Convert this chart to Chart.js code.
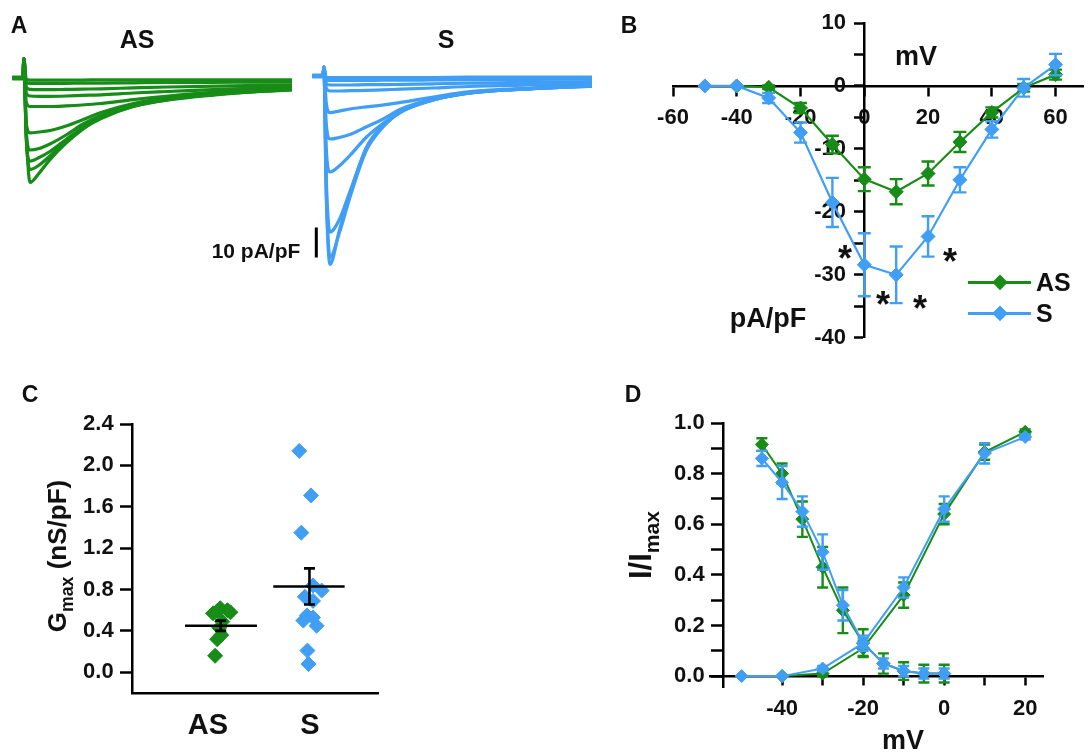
<!DOCTYPE html>
<html>
<head>
<meta charset="utf-8">
<script src="https://cdn.jsdelivr.net/npm/chart.js@4.4.1/dist/chart.umd.min.js"></script>
<style>
  body { margin: 0; background: #fff; }
  #fig { position: relative; width: 1091px; height: 755px; overflow: hidden;
         font-family: 'Liberation Sans', Arial, sans-serif; color: #111; }
  #fig canvas { position: absolute; }
  .t { position: absolute; transform: translate(-50%, -50%); font-weight: bold; line-height: 1; white-space: nowrap; }
  .l { position: absolute; transform: translate(0, -50%); font-weight: bold; line-height: 1; white-space: nowrap; }
  .v { position: absolute; transform: translate(-50%, -50%) rotate(-90deg); font-weight: bold; line-height: 1; white-space: nowrap; }
  .dia { position: absolute; width: 10.5px; height: 10.5px; transform: translate(-50%, -50%) rotate(45deg); }
  .sub { font-size: 0.68em; position: relative; top: 0.38em; }
</style>
</head>
<body>
<div id="fig">
  <canvas id="traceAS" width="300" height="280" style="left:0;top:0"></canvas>
  <canvas id="traceS" width="300" height="280" style="left:300px;top:0"></canvas>
  <canvas id="iv" width="491" height="360" style="left:600px;top:0"></canvas>
  <canvas id="gmax" width="390" height="385" style="left:0;top:370px"></canvas>
  <canvas id="kin" width="521" height="385" style="left:570px;top:370px"></canvas>

  <div class="t" style="left:19px;top:25px;font-size:23px">A</div>
  <div class="t" style="left:137px;top:39px;font-size:25px">AS</div>
  <div class="t" style="left:446px;top:39px;font-size:25px">S</div>
  <div class="t" style="left:256px;top:250px;font-size:21px">10 pA/pF</div>

  <div class="t" style="left:629px;top:25px;font-size:23px">B</div>
  <div class="t" style="left:916px;top:56px;font-size:27px">mV</div>
  <div class="t" style="left:768px;top:318px;font-size:27px">pA/pF</div>
  <div class="t" style="left:845px;top:259px;font-size:36px">*</div>
  <div class="t" style="left:883px;top:305px;font-size:36px">*</div>
  <div class="t" style="left:920px;top:309px;font-size:36px">*</div>
  <div class="t" style="left:950px;top:262px;font-size:36px">*</div>
  <div style="position:absolute;left:968px;top:281px;width:63px;height:2.5px;background:#178c17"></div>
  <div class="dia" style="left:1000px;top:282px;background:#178c17"></div>
  <div class="l" style="left:1036px;top:282px;font-size:25px">AS</div>
  <div style="position:absolute;left:968px;top:312px;width:63px;height:2.5px;background:#409ef5"></div>
  <div class="dia" style="left:1000px;top:313px;background:#409ef5"></div>
  <div class="l" style="left:1036px;top:313px;font-size:25px">S</div>

  <div class="t" style="left:30px;top:394px;font-size:23px">C</div>
  <div class="v" style="left:57px;top:556px;font-size:26px">G<span class="sub">max</span> (nS/pF)</div>

  <div class="t" style="left:633px;top:394px;font-size:23px">D</div>
  <div class="v" style="left:640px;top:545px;font-size:31px">I/I<span class="sub">max</span></div>
  <div class="t" style="left:903px;top:740px;font-size:27px">mV</div>
</div>

<script>
const GREEN = '#178c17';
const BLUE = '#409ef5';

// ---- panel A: representative current traces (pA/pF) sampled at traceTime (ms)
const traceTime = [-4, 0, 0.3, 1.2, 2.6, 6, 10, 16, 22, 29, 41, 54, 78, 100];
const tracesAS = [
  [0, 0, 6.5, -18, -34.8, -31.7, -27.2, -21.7, -17.2, -13.3, -9.4, -7.2, -5.0, -3.9],
  [0, 0, 6.5, -20, -30.5, -29.0, -26.0, -21.0, -17.0, -13.5, -9.5, -7.3, -5.1, -4.0],
  [0, 0, 6.5, -20, -27.7, -26.5, -24.5, -20.5, -16.5, -13.0, -9.3, -7.0, -5.0, -3.8],
  [0, 0, 6.5, -18, -24.0, -23.5, -22.0, -19.0, -15.5, -12.5, -9.0, -6.8, -4.8, -3.7],
  [0, 0, 6.5, -15, -18.3, -18.0, -17.5, -16.0, -14.0, -11.5, -8.5, -6.5, -4.6, -3.5],
  [0, 0, 6.5, -8, -9.5, -9.5, -9.5, -9.3, -9.0, -8.5, -7.2, -6.0, -4.3, -3.3],
  [0, 0, 6.5, -5, -6.0, -6.1, -6.1, -6.0, -5.8, -5.6, -5.0, -4.5, -3.6, -3.0],
  [0, 0, 6.5, -3, -3.8, -3.9, -3.9, -3.8, -3.7, -3.6, -3.3, -3.0, -2.6, -2.3],
  [0, 0, 6.5, -1.5, -1.8, -1.8, -1.8, -1.8, -1.7, -1.7, -1.6, -1.5, -1.4, -1.3],
  [0, 0, 6.5, -0.5, -0.7, -0.7, -0.7, -0.7, -0.7, -0.6, -0.6, -0.6, -0.6, -0.6]
];
const tracesS = [
  [0, 0, 3, -40, -62.8, -51.7, -39.4, -24.0, -16.7, -11.7, -7.8, -5.6, -4.1, -3.3],
  [0, 0, 3, -38, -60.5, -52.5, -40.5, -25.0, -17.3, -12.0, -8.0, -5.7, -4.2, -3.4],
  [0, 0, 3, -34, -52.0, -48.0, -38.5, -24.5, -17.0, -12.0, -8.0, -5.7, -4.2, -3.4],
  [0, 0, 3, -24, -32.0, -30.0, -26.5, -20.5, -16.0, -11.8, -7.9, -5.7, -4.2, -3.4],
  [0, 0, 3, -16, -21.0, -20.5, -19.5, -17.0, -14.5, -11.0, -7.6, -5.6, -4.1, -3.3],
  [0, 0, 3, -9, -12.2, -11.7, -11.0, -10.3, -9.7, -8.8, -7.0, -5.3, -4.0, -3.2],
  [0, 0, 3, -4, -5.0, -5.0, -4.9, -4.8, -4.6, -4.4, -4.0, -3.5, -3.0, -2.6],
  [0, 0, 3, -2.5, -3.0, -3.0, -3.0, -2.9, -2.9, -2.8, -2.6, -2.4, -2.1, -1.9],
  [0, 0, 3, -1.2, -1.5, -1.5, -1.5, -1.5, -1.4, -1.4, -1.3, -1.2, -1.1, -1.0],
  [0, 0, 3, -0.4, -0.5, -0.5, -0.5, -0.5, -0.5, -0.5, -0.5, -0.4, -0.4, -0.4]
];
const scaleBarTime = -2.5;
const scaleBarTop = -50.5;
const scaleBarSize = 10; // pA/pF

// ---- panel B: I-V relation
const ivVoltAS = [-40, -30, -20, -10, 0, 10, 20, 30, 40, 50, 60];
const ivAS = [0, -0.2, -3.5, -9.3, -14.8, -16.8, -13.9, -8.9, -4.2, -0.3, 1.8];
const ivErrAS = [0, 0.3, 0.8, 1.4, 1.9, 2.0, 1.9, 1.6, 0.8, 0.6, 0.8];
const ivVoltS = [-50, -40, -30, -20, -10, 0, 10, 20, 30, 40, 50, 60];
const ivS = [0, 0, -1.9, -7.4, -18.5, -28.4, -30.0, -23.9, -14.9, -6.9, -0.3, 3.4];
const ivErrS = [0, 0, 0.8, 1.6, 3.9, 5.0, 4.5, 3.2, 2.0, 1.3, 1.4, 1.7];
const ivXTicks = [-60, -40, -20, 0, 20, 40, 60];
const ivYTicks = [-40, -35, -30, -25, -20, -15, -10, -5, 0, 5, 10];

// ---- panel C: Gmax per cell (x = group position with jitter)
const groupLabels = ['AS', 'S'];
const gmaxPosAS = [1.07, 1.09, 1.13, 1.11, 1.14, 1.05, 1.22, 1.12, 1.19, 1.09];
const gmaxAS = [0.16, 0.32, 0.36, 0.43, 0.49, 0.57, 0.58, 0.62, 0.60, 0.59];
const gmaxPosS = [1.895, 2.01, 1.915, 2.03, 2.115, 1.95, 2.03, 1.97, 2.03, 1.935, 2.065, 1.975, 1.985];
const gmaxS = [2.14, 1.71, 1.35, 0.84, 0.79, 0.73, 0.69, 0.55, 0.53, 0.50, 0.45, 0.21, 0.08];
const gmaxMean = [0.45, 0.83];
const gmaxSem = [0.05, 0.175];
const meanLineFrom = [0.775, 1.64];
const meanLineTo = [1.48, 2.34];
const semPos = [1.125, 1.995];
const gmaxYTicks = [0, 0.4, 0.8, 1.2, 1.6, 2.0, 2.4];

// ---- panel D: steady-state inactivation and activation (I/Imax)
const inactVolt = [-45, -40, -35, -30, -25, -20, -15, -10, -5, 0];
const inactAS = [0.915, 0.80, 0.62, 0.43, 0.26, 0.13, 0.05, 0.02, 0.01, 0.01];
const inactErrAS = [0.025, 0.04, 0.07, 0.08, 0.09, 0.055, 0.04, 0.035, 0.035, 0.035];
const inactS = [0.86, 0.765, 0.65, 0.49, 0.28, 0.13, 0.05, 0.02, 0.01, 0.01];
const inactErrS = [0.03, 0.065, 0.06, 0.07, 0.06, 0.03, 0.02, 0.02, 0.02, 0.02];
const actVoltAS = [-40, -30, -20, -10, 0, 10, 20];
const actAS = [0, 0.01, 0.11, 0.32, 0.64, 0.885, 0.965];
const actErrAS = [0, 0.01, 0.03, 0.05, 0.04, 0.03, 0.01];
const actVoltS = [-50, -40, -30, -20, -10, 0, 10, 20];
const actS = [0, 0, 0.03, 0.13, 0.35, 0.66, 0.88, 0.945];
const actErrS = [0, 0, 0.01, 0.02, 0.04, 0.05, 0.04, 0.01];
const kinXTicks = [-40, -30, -20, -10, 0, 10, 20];
const kinYTicks = [0, 0.1, 0.2, 0.3, 0.4, 0.5, 0.6, 0.7, 0.8, 0.9, 1.0];

Chart.defaults.font.family = "'Liberation Sans', Arial, sans-serif";
Chart.defaults.color = '#111';
Chart.defaults.animation = false;
Chart.defaults.plugins.legend.display = false;
Chart.defaults.plugins.tooltip.enabled = false;

// axes crossing at a value put their labels flush on the line, so pad them with spaces
const GAP = '   ';

// vertical error bars with caps, drawn just under each dataset
const errorBars = {
  id: 'errorBars',
  beforeDatasetDraw(chart, args) {
    const ds = chart.data.datasets[args.index];
    if (!ds.errors) return;
    const ys = chart.scales[args.meta.yAxisID];
    const ctx = chart.ctx;
    const cap = ds.capHalf || 6;
    ctx.save();
    ctx.strokeStyle = ds.errorColor || ds.borderColor;
    ctx.lineWidth = ds.errorWidth || 2;
    args.meta.data.forEach((pt, i) => {
      const e = ds.errors[i];
      if (!e) return;
      const v = ds.data[i].y;
      const y1 = ys.getPixelForValue(v + e);
      const y2 = ys.getPixelForValue(v - e);
      ctx.beginPath();
      ctx.moveTo(pt.x, y1); ctx.lineTo(pt.x, y2);
      ctx.moveTo(pt.x - cap, y1); ctx.lineTo(pt.x + cap, y1);
      ctx.moveTo(pt.x - cap, y2); ctx.lineTo(pt.x + cap, y2);
      ctx.stroke();
    });
    ctx.restore();
  }
};

function pts(xs, ys) {
  return xs.map((x, i) => ({ x: x, y: ys[i] }));
}

function axis(min, max, position, tickValues, o) {
  return {
    type: 'linear', min: min, max: max, position: position,
    afterBuildTicks: s => { s.ticks = tickValues.map(v => ({ value: v })); },
    ticks: {
      font: { size: o.size || 22, weight: 'bold' }, color: '#111',
      padding: o.pad, autoSkip: false, maxRotation: 0, callback: o.label
    },
    grid: { drawOnChartArea: false, tickLength: o.tl, tickWidth: 2.5, tickColor: o.tickColor || '#000' },
    border: { width: 2.5, color: '#000' }
  };
}

// ---- A
function traceChart(id, traces, color, ymin, ymax, extra) {
  const datasets = traces.map(tr => ({
    data: pts(traceTime, tr), borderColor: color, borderWidth: 3.2,
    pointRadius: 0, cubicInterpolationMode: 'monotone'
  }));
  datasets.unshift({
    data: pts([traceTime[0], traceTime[1]], [0, 0]), borderColor: color,
    borderWidth: 5, pointRadius: 0
  });
  if (extra) datasets.push(extra);
  new Chart(document.getElementById(id), {
    type: 'line',
    data: { datasets: datasets },
    options: {
      responsive: false,
      layout: { padding: { left: 12, right: 8, top: 50, bottom: 10 } },
      scales: {
        x: { type: 'linear', min: -4.1, max: 100, display: false },
        y: { type: 'linear', min: ymin, max: ymax, display: false }
      }
    }
  });
}

traceChart('traceAS', tracesAS, GREEN, -64, 28 / 3);
traceChart('traceS', tracesS, BLUE, -194 / 3, 26 / 3, {
  data: pts([scaleBarTime, scaleBarTime], [scaleBarTop, scaleBarTop - scaleBarSize]),
  borderColor: '#000', borderWidth: 3, pointRadius: 0
});

// ---- B
function seriesLine(xs, ys, errs, color, order, radius) {
  return {
    data: pts(xs, ys), errors: errs, borderColor: color, backgroundColor: color,
    borderWidth: 2.2, pointStyle: 'rectRot', pointRadius: radius || 6.5,
    pointBorderWidth: 1, capHalf: 6.5, errorWidth: 2.4, order: order, clip: false
  };
}

new Chart(document.getElementById('iv'), {
  type: 'line',
  data: {
    datasets: [
      seriesLine(ivVoltAS, ivAS, ivErrAS, GREEN, 2, 7),
      seriesLine(ivVoltS, ivS, ivErrS, BLUE, 1, 7)
    ]
  },
  plugins: [errorBars],
  options: {
    responsive: false,
    layout: { padding: { left: 73, right: 2, top: 23, bottom: 18 } },
    scales: {
      x: axis(-60, 68.6, { y: 0 }, ivXTicks, { tl: 9, pad: 10 }),
      y: axis(-40, 10, { x: 0 }, ivYTicks, { tl: 9, pad: 9, label: v => (v % 10 === 0 ? v + GAP : '') })
    }
  }
});

// ---- C
const meanDatasets = gmaxMean.map((m, i) => ({
  data: pts([meanLineFrom[i], meanLineTo[i]], [m, m]),
  borderColor: '#000', borderWidth: 2.6, pointRadius: 0, order: 0
}));
const semDatasets = gmaxMean.map((m, i) => ({
  data: pts([semPos[i]], [m]), errors: [gmaxSem[i]], errorColor: '#000', errorWidth: 2.6,
  capHalf: 5.5, borderColor: '#000', pointRadius: 0, showLine: false, order: 0
}));

new Chart(document.getElementById('gmax'), {
  type: 'line',
  data: {
    datasets: [
      { data: pts(gmaxPosAS, gmaxAS), showLine: false, pointStyle: 'rectRot', pointRadius: 7.5,
        backgroundColor: GREEN, borderColor: GREEN, order: 2, clip: false },
      { data: pts(gmaxPosS, gmaxS), showLine: false, pointStyle: 'rectRot', pointRadius: 7.5,
        backgroundColor: BLUE, borderColor: BLUE, order: 2, clip: false },
      ...meanDatasets,
      ...semDatasets
    ]
  },
  plugins: [errorBars],
  options: {
    responsive: false,
    layout: { padding: { left: 132, right: 12, top: 54, bottom: 62 } },
    scales: {
      x: axis(0.255, 2.667, { y: -0.2 }, [1, 2], {
        tl: 8, pad: 8, size: 29, tickColor: 'rgba(0,0,0,0)', label: (v, i) => groupLabels[i]
      }),
      y: axis(-0.2, 2.4, { x: 0.255 }, gmaxYTicks, { tl: 11, pad: 9, label: v => v.toFixed(1) + GAP })
    }
  }
});

// ---- D
new Chart(document.getElementById('kin'), {
  type: 'line',
  data: {
    datasets: [
      seriesLine(inactVolt, inactAS, inactErrAS, GREEN, 2),
      seriesLine(actVoltAS, actAS, actErrAS, GREEN, 2),
      seriesLine(inactVolt, inactS, inactErrS, BLUE, 1),
      seriesLine(actVoltS, actS, actErrS, BLUE, 1)
    ].map(d => Object.assign(d, { capHalf: 5.5, borderWidth: 2 }))
  },
  plugins: [errorBars],
  options: {
    responsive: false,
    layout: { padding: { left: 140, right: 48, top: 53, bottom: 68 } },
    scales: {
      x: axis(-57.8, 24.4, { y: 0 }, kinXTicks, { tl: 8, pad: 12, label: v => (v % 20 === 0 ? v : '') }),
      y: axis(-0.043, 1.0, { x: -54.6 }, kinYTicks, { tl: 11, pad: 9, label: (v, i) => (i % 2 === 0 ? v.toFixed(1) + GAP : '') })
    }
  }
});
</script>
</body>
</html>
